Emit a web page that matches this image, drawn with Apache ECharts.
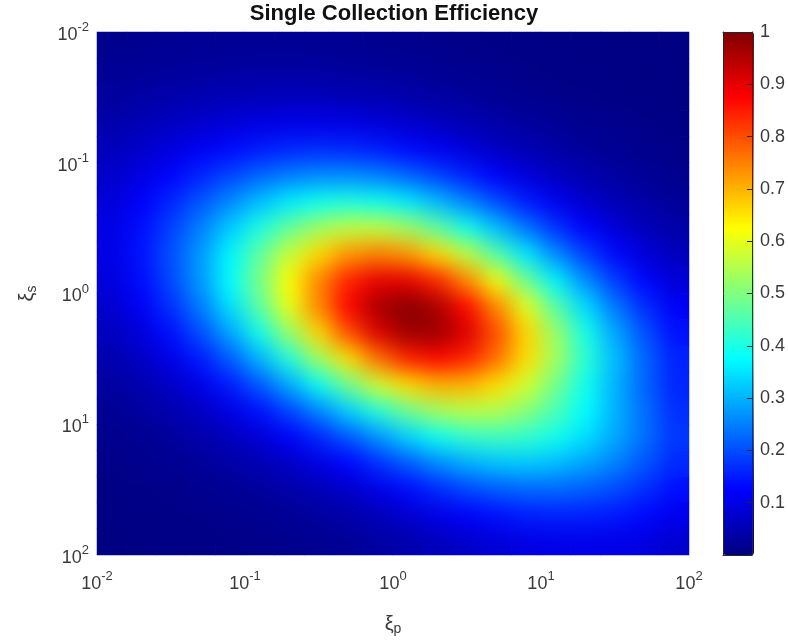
<!DOCTYPE html>
<html>
<head>
<meta charset="utf-8">
<script src="https://cdn.jsdelivr.net/npm/echarts/dist/echarts.min.js"></script>
<style>
html,body{margin:0;padding:0;background:#fff;}
#main{position:absolute;left:0;top:0;width:788px;height:641px;}
#smoothWrap{position:absolute;left:97px;top:32px;width:592px;height:523px;overflow:hidden;}
#smooth{position:absolute;left:0;top:0;width:592px;height:523px;filter:blur(11px);}
</style>
</head>
<body>
<div id="main"></div>
<div id="smoothWrap"><div id="smooth"></div></div>
<script>
// cell centres, log10 of xi_p (columns) and log10 of xi_s (rows)
const xiP_cells = ['-1.9','-1.7','-1.5','-1.3','-1.1','-0.9','-0.7','-0.5','-0.3','-0.1','0.1','0.3','0.5','0.7','0.9','1.1','1.3','1.5','1.7','1.9'];
const xiS_cells = ['-1.9','-1.7','-1.5','-1.3','-1.1','-0.9','-0.7','-0.5','-0.3','-0.1','0.1','0.3','0.5','0.7','0.9','1.1','1.3','1.5','1.7','1.9'];

// single collection efficiency, one row per xi_s cell (top to bottom)
const row00 = [0.013,0.015,0.017,0.019,0.020,0.020,0.020,0.019,0.017,0.015,0.013,0.010,0.008,0.006,0.005,0.004,0.004,0.003,0.003,0.003];
const row01 = [0.020,0.024,0.027,0.030,0.032,0.034,0.034,0.033,0.030,0.027,0.024,0.019,0.015,0.012,0.009,0.006,0.005,0.004,0.003,0.003];
const row02 = [0.029,0.036,0.043,0.049,0.055,0.058,0.060,0.059,0.055,0.049,0.043,0.035,0.028,0.021,0.016,0.012,0.009,0.006,0.004,0.003];
const row03 = [0.042,0.053,0.064,0.076,0.087,0.095,0.100,0.100,0.096,0.087,0.076,0.063,0.050,0.039,0.029,0.021,0.015,0.011,0.008,0.005];
const row04 = [0.058,0.074,0.093,0.114,0.133,0.150,0.162,0.167,0.163,0.151,0.133,0.112,0.089,0.069,0.052,0.038,0.027,0.019,0.013,0.009];
const row05 = [0.074,0.098,0.127,0.160,0.193,0.225,0.249,0.262,0.263,0.250,0.224,0.190,0.155,0.120,0.090,0.065,0.047,0.032,0.022,0.015];
const row06 = [0.087,0.121,0.161,0.209,0.260,0.312,0.357,0.389,0.400,0.389,0.356,0.308,0.254,0.200,0.150,0.110,0.077,0.054,0.037,0.025];
const row07 = [0.097,0.137,0.188,0.251,0.324,0.401,0.474,0.532,0.564,0.564,0.532,0.469,0.393,0.313,0.239,0.174,0.124,0.086,0.059,0.039];
const row08 = [0.099,0.143,0.202,0.276,0.368,0.469,0.572,0.663,0.728,0.750,0.727,0.659,0.563,0.457,0.354,0.262,0.188,0.131,0.089,0.060];
const row09 = [0.092,0.136,0.196,0.275,0.377,0.494,0.622,0.745,0.843,0.899,0.898,0.840,0.738,0.612,0.482,0.364,0.264,0.185,0.128,0.085];
const row10 = [0.078,0.118,0.172,0.248,0.346,0.467,0.605,0.746,0.873,0.961,0.993,0.959,0.868,0.741,0.599,0.461,0.341,0.243,0.169,0.115];
const row11 = [0.062,0.093,0.139,0.202,0.287,0.395,0.524,0.665,0.801,0.909,0.972,0.971,0.908,0.800,0.666,0.526,0.398,0.289,0.205,0.141];
const row12 = [0.045,0.068,0.102,0.150,0.217,0.302,0.409,0.531,0.655,0.767,0.845,0.872,0.843,0.767,0.658,0.535,0.417,0.311,0.225,0.158];
const row13 = [0.031,0.047,0.070,0.104,0.150,0.213,0.291,0.384,0.484,0.581,0.658,0.700,0.699,0.657,0.582,0.488,0.392,0.301,0.224,0.161];
const row14 = [0.020,0.031,0.046,0.067,0.098,0.139,0.192,0.256,0.331,0.410,0.482,0.535,0.559,0.549,0.509,0.448,0.376,0.301,0.233,0.171];
const row15 = [0.013,0.019,0.028,0.042,0.061,0.086,0.119,0.161,0.211,0.271,0.333,0.386,0.422,0.435,0.424,0.392,0.345,0.291,0.234,0.178];
const row16 = [0.008,0.012,0.017,0.025,0.036,0.051,0.070,0.095,0.127,0.170,0.214,0.259,0.294,0.316,0.322,0.310,0.285,0.251,0.210,0.165];
const row17 = [0.005,0.007,0.010,0.015,0.021,0.029,0.040,0.055,0.073,0.100,0.132,0.164,0.193,0.214,0.226,0.228,0.217,0.199,0.170,0.138];
const row18 = [0.004,0.004,0.006,0.008,0.012,0.016,0.023,0.030,0.041,0.057,0.078,0.100,0.120,0.138,0.150,0.156,0.154,0.147,0.131,0.108];
const row19 = [0.003,0.003,0.004,0.005,0.007,0.009,0.013,0.017,0.023,0.033,0.044,0.059,0.073,0.086,0.096,0.102,0.104,0.102,0.094,0.079];

// colour bar tick values
const colorbarTicks = [0.1,0.2,0.3,0.4,0.5,0.6,0.7,0.8,0.9,1];

const efficiency = [row00,row01,row02,row03,row04,row05,row06,row07,row08,row09,row10,row11,row12,row13,row14,row15,row16,row17,row18,row19];

const jet = ['#000080','#0000ff','#0080ff','#00ffff','#80ff80','#ffff00','#ff8000','#ff0000','#800000'];
const font = 'Liberation Sans, Arial, Helvetica, sans-serif';
const labelColor = '#3a3a3a';

const cells = [];
efficiency.forEach(function (row, j) {
  row.forEach(function (v, i) { cells.push([i, j, v]); });
});

function powLabel(v) {
  const e = Math.round(Math.log(v) / Math.LN10);
  return '{b|10}{s|' + e + '}';
}
const tickRich = {
  b: { fontFamily: font, fontSize: 18, lineHeight: 28, color: labelColor },
  s: { fontFamily: font, fontSize: 13, lineHeight: 12, verticalAlign: 'top', color: labelColor }
};
const nameRich = {
  a: { fontFamily: font, fontSize: 20, lineHeight: 24, color: labelColor },
  b: { fontFamily: font, fontSize: 14, lineHeight: 10, verticalAlign: 'bottom', color: labelColor }
};
const borderLine = { color: '#262626', width: 1 };

const main = echarts.init(document.getElementById('main'), null, { renderer: 'canvas' });
main.setOption({
  backgroundColor: '#ffffff',
  animation: false,
  title: {
    text: 'Single Collection Efficiency',
    left: 'center', top: 0, padding: 0,
    textStyle: { fontFamily: font, fontSize: 22, fontWeight: 'bold', color: '#111', lineHeight: 27 }
  },
  grid: [
    { left: 97, top: 32, width: 592, height: 523 },
    { left: 723, top: 32, width: 31, height: 523 }
  ],
  xAxis: [
    { type: 'category', gridIndex: 0, data: xiP_cells, show: false },
    {
      type: 'log', gridIndex: 0, logBase: 10, min: 0.01, max: 100, position: 'bottom',
      axisLine: { show: false, onZero: false }, axisTick: { show: false }, splitLine: { show: false },
      axisLabel: { margin: 15, formatter: powLabel, rich: tickRich, showMinLabel: true, showMaxLabel: true },
      name: '{a|ξ}{b|p}', nameLocation: 'middle', nameGap: 57, nameTextStyle: { rich: nameRich }
    },
    { type: 'value', gridIndex: 1, min: 0, max: 1, position: 'bottom', z: 10,
      axisLine: { show: true, onZero: false, lineStyle: borderLine }, axisTick: { show: false },
      axisLabel: { show: false }, splitLine: { show: false } },
    { type: 'value', gridIndex: 1, min: 0, max: 1, position: 'top', z: 10,
      axisLine: { show: true, onZero: false, lineStyle: borderLine }, axisTick: { show: false },
      axisLabel: { show: false }, splitLine: { show: false } }
  ],
  yAxis: [
    { type: 'category', gridIndex: 0, data: xiS_cells, inverse: true, show: false },
    {
      type: 'log', gridIndex: 0, logBase: 10, min: 0.01, max: 100, inverse: true, position: 'left',
      axisLine: { show: false, onZero: false }, axisTick: { show: false }, splitLine: { show: false },
      axisLabel: { margin: 8, padding: [6, 0, 0, 0], formatter: powLabel, rich: tickRich, showMinLabel: true, showMaxLabel: true },
      name: '{a|ξ}{b|s}', nameLocation: 'middle', nameGap: 58, nameRotate: 90, nameTextStyle: { rich: nameRich }
    },
    { type: 'value', gridIndex: 1, min: 0, max: 1, interval: 0.1, position: 'right', z: 10,
      axisLine: { show: true, onZero: false, lineStyle: borderLine },
      axisTick: { show: true, inside: true, length: 5, lineStyle: borderLine },
      axisLabel: { margin: 8, fontFamily: font, fontSize: 18, color: labelColor,
        formatter: function (v) {
          const r = Math.round(v * 10) / 10;
          return colorbarTicks.indexOf(r) >= 0 ? String(r) : '';
        } },
      splitLine: { show: false } },
    { type: 'value', gridIndex: 1, min: 0, max: 1, position: 'left', z: 10,
      axisLine: { show: true, onZero: false, lineStyle: borderLine }, axisTick: { show: false },
      axisLabel: { show: false }, splitLine: { show: false } }
  ],
  visualMap: {
    type: 'continuous', min: 0, max: 1, seriesIndex: 0, calculable: false, orient: 'vertical',
    left: 723, top: 32, itemWidth: 31, itemHeight: 523, padding: 0, text: null, z: 2,
    inRange: { color: jet }
  },
  series: [{
    type: 'heatmap', xAxisIndex: 0, yAxisIndex: 0, data: cells, progressive: 0,
    emphasis: { disabled: true }, itemStyle: { borderWidth: 0 }
  }]
});

// soft-shaded copy of the same heatmap (like interpolated shading)
const smooth = echarts.init(document.getElementById('smooth'), null, { renderer: 'canvas' });
smooth.setOption({
  animation: false,
  grid: { left: 0, top: 0, right: 0, bottom: 0 },
  xAxis: { type: 'category', data: xiP_cells, show: false },
  yAxis: { type: 'category', data: xiS_cells, inverse: true, show: false },
  visualMap: { show: false, type: 'continuous', min: 0, max: 1, inRange: { color: jet } },
  series: [{ type: 'heatmap', data: cells, progressive: 0, emphasis: { disabled: true } }]
});
</script>
</body>
</html>
